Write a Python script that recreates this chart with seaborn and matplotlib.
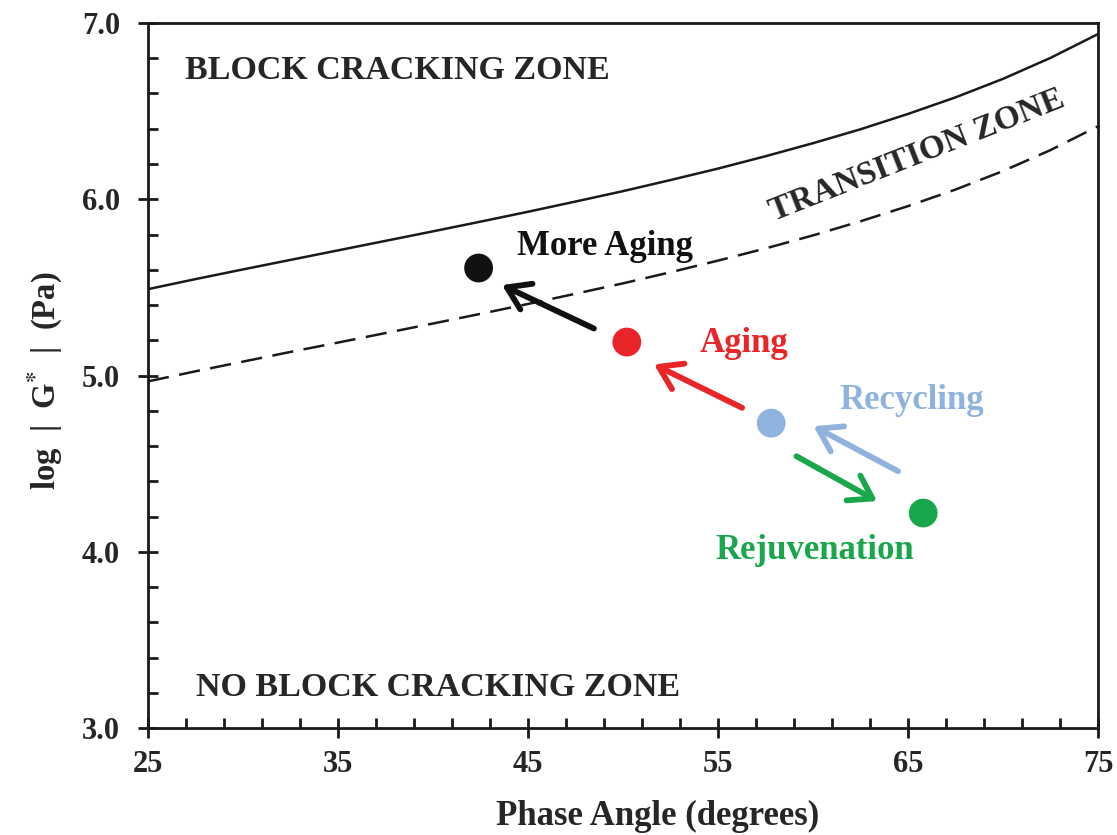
import numpy as np
import pandas as pd
import matplotlib.pyplot as plt
import seaborn as sns

# boundary curves (phase angle vs log|G*|)
phase = [25, 27.5, 30, 32.5, 35, 37.5, 40, 42.5, 45, 47.5, 50,
         52.5, 55, 57.5, 60, 62.5, 65, 67.5, 70, 72.5, 75]
upper_curve = [5.49, 5.547, 5.602, 5.656, 5.710, 5.764, 5.818, 5.873, 5.929, 5.987, 6.046,
               6.109, 6.174, 6.244, 6.318, 6.397, 6.484, 6.578, 6.683, 6.802, 6.937]
lower_curve = [4.967, 5.024, 5.079, 5.134, 5.187, 5.241, 5.295, 5.350, 5.406, 5.464, 5.523,
               5.586, 5.652, 5.721, 5.795, 5.875, 5.961, 6.055, 6.160, 6.279, 6.414]

# binder states
states = ['More Aging', 'Aging', 'Recycling', 'Rejuvenation']
state_phase = [42.4, 50.2, 57.8, 65.8]
state_logg = [5.61, 5.19, 4.73, 4.22]
state_colors = ['#111111', '#e8262a', '#8fb3dd', '#1aa64a']

# arrows: (start x, start y) -> (end x, end y)
arrow_start_x = [48.6, 56.4, 64.6, 59.0]
arrow_start_y = [5.26, 4.81, 4.45, 4.55]
arrow_end_x = [43.5, 51.5, 59.9, 63.5]
arrow_end_y = [5.52, 5.07, 4.72, 4.28]

x_major = [25, 35, 45, 55, 65, 75]
y_major = [3.0, 4.0, 5.0, 6.0, 7.0]

sns.set_theme(style='ticks')
plt.rcParams['font.family'] = ['Liberation Serif', 'DejaVu Serif']
plt.rcParams['font.weight'] = 'bold'
plt.rcParams['mathtext.fontset'] = 'stix'

fig = plt.figure(figsize=(11.17, 8.35), dpi=100)
ax = fig.add_axes([0.1325, 0.128, 0.8505, 0.8445])

curves = pd.DataFrame({'phase': phase, 'upper': upper_curve, 'lower': lower_curve})
sns.lineplot(data=curves, x='phase', y='upper', color='#1a1a1a', lw=1.8, ax=ax)
sns.lineplot(data=curves, x='phase', y='lower', color='#1a1a1a', lw=1.8,
             linestyle=(0, (8.5, 4.2)), ax=ax)

pts = pd.DataFrame({'phase': state_phase, 'logg': state_logg, 'state': states})
sns.scatterplot(data=pts, x='phase', y='logg', hue='state', palette=state_colors,
                s=430, edgecolor='none', legend=False, ax=ax, zorder=3)

for i in range(4):
    ax.annotate('', xy=(arrow_end_x[i], arrow_end_y[i]),
                xytext=(arrow_start_x[i], arrow_start_y[i]),
                arrowprops=dict(arrowstyle='->,head_length=1.3,head_width=0.85',
                                color=state_colors[i], lw=4.2))

fs = 25
ax.text(26.95, 6.73, 'BLOCK CRACKING ZONE', fontsize=24.5, fontweight='bold', va='center')
ax.text(27.5, 3.23, 'NO BLOCK CRACKING ZONE', fontsize=24.5, fontweight='bold', va='center')
ax.text(65.5, 6.25, 'TRANSITION ZONE', fontsize=24, fontweight='bold',
        rotation=21.5, ha='center', va='center', rotation_mode='anchor')
ax.text(44.4, 5.73, 'More Aging', fontsize=fs, fontweight='bold', va='center',
        color=state_colors[0])
ax.text(54.05, 5.18, 'Aging', fontsize=fs, fontweight='bold', va='center',
        color=state_colors[1])
ax.text(61.4, 4.86, 'Recycling', fontsize=fs, fontweight='bold', va='center',
        color=state_colors[2])
ax.text(54.85, 4.01, 'Rejuvenation', fontsize=fs, fontweight='bold', va='center',
        color=state_colors[3])

ax.set_xlim(25, 75)
ax.set_ylim(3.0, 7.0)
ax.set_xticks(x_major)
ax.set_xticks([v for v in np.arange(27, 75, 2) if v not in x_major], minor=True)
ax.set_yticks(y_major)
ax.set_yticks([v for v in np.arange(3.2, 7.0, 0.2) if abs(v - round(v)) > 0.01], minor=True)
ax.set_yticklabels([f'{v:.1f}' for v in y_major])
ax.tick_params(which='major', direction='inout', length=14, width=2,
               labelsize=22, color='#1a1a1a')
ax.tick_params(axis='x', which='major', pad=9)
ax.tick_params(axis='y', which='major', pad=13)
ax.tick_params(which='minor', direction='in', length=7, width=2, color='#1a1a1a')
for lab in ax.get_xticklabels() + ax.get_yticklabels():
    lab.set_fontweight('bold')

for side in ['left', 'bottom', 'right', 'top']:
    ax.spines[side].set_linewidth(2)
    ax.spines[side].set_color('#1a1a1a')

ax.set_xlabel('Phase Angle (degrees)', fontsize=25, fontweight='bold', va='center')
ax.xaxis.set_label_coords(0.536, -0.126)
ax.set_ylabel(r'log  |  G$^{*}$  |  (Pa)', fontsize=23.5, fontweight='bold', va='center')
ax.yaxis.set_label_coords(-0.108, 0.492)

fig.savefig('out.png', dpi=100)
